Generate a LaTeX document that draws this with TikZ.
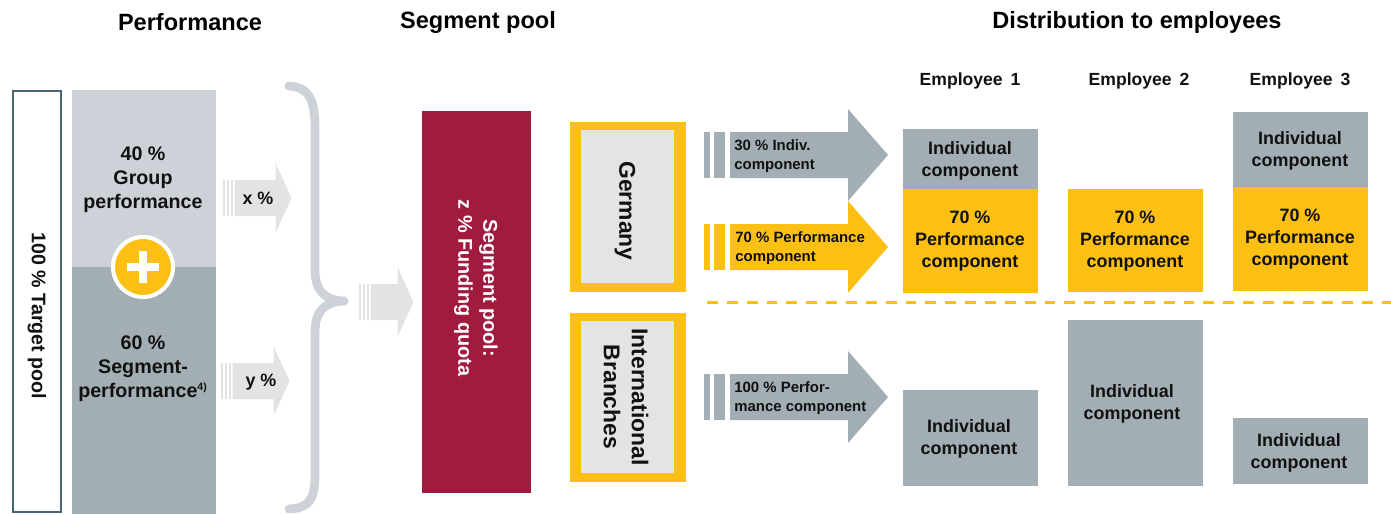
\documentclass[tikz,border=0pt]{standalone}
\usepackage{fontspec}
\setmainfont{Liberation Sans}
\usepackage{xcolor}
\definecolor{framegray}{HTML}{4B6272}
\definecolor{grouplight}{HTML}{CDD2D8}
\definecolor{segmentgray}{HTML}{A3AEB4}
\definecolor{arrowlight}{HTML}{E1E3E4}
\definecolor{poolred}{HTML}{A11B3F}
\definecolor{perfyellow}{HTML}{FCBF14}
\definecolor{innergray}{HTML}{E3E4E4}
\definecolor{inkblack}{HTML}{111111}

\begin{document}
\begin{tikzpicture}[x=0.02cm, y=-0.02cm,
  head/.style={font=\fontsize{13.4}{16}\selectfont\bfseries, text=black},
  emphead/.style={font=\fontsize{10}{12}\selectfont\bfseries, text=inkblack},
  coltext/.style={align=center, font=\fontsize{11.2}{13.6}\selectfont\bfseries, text=inkblack},
  boxtext/.style={align=center, font=\fontsize{10.2}{12.5}\selectfont\bfseries, text=inkblack},
  arrowtext/.style={align=left, anchor=west, inner sep=0pt, font=\fontsize{8.5}{10.8}\selectfont\bfseries, text=inkblack},
  sidetext/.style={align=center, rotate=-90, font=\fontsize{13}{15.9}\selectfont\bfseries, text=inkblack}]
  \useasboundingbox (0,0) rectangle (1391,514);

  % === Ueberschriften ===
  \node[head] (hperf) at (190,22) {Performance};
  \node[head] (hpool) at (478,22) {Segment pool};
  \node[head] (hdist) at (1137,22) {Distribution to employees};

  % === Zielpool ===
  \draw[framegray, line width=1.1pt] (13,91) rectangle (61,512);
  \node[rotate=-90, font=\fontsize{11.2}{13}\selectfont\bfseries, text=inkblack] (target) at (37,316) {100 \% Target pool};

  % === Performance-Saeule ===
  \fill[grouplight] (72,90) rectangle (216,267);
  \fill[segmentgray] (72,267) rectangle (216,514);
  \node[coltext] (group) at (143,180) {40 \%\\Group\\performance};
  \node[coltext] (segment) at (143,369) {60 \%\\Segment-\\performance\textsuperscript{\fontsize{6}{7}\selectfont 4)}};
  \node[circle, fill=perfyellow, draw=white, line width=2.3pt, minimum size=60*0.02cm, inner sep=0pt] (plus) at (143,267) {};
  \draw[white, line width=4.4pt] (plus.center) ++(-16,0) -- ++(32,0);
  \draw[white, line width=4.4pt] (plus.center) ++(0,-16) -- ++(0,32);

  % === Helle Pfeile ===
  \foreach \sx/\cy/\len in {223/198/41, 221/381/41, 359/302/27}{
    \fill[arrowlight] (\sx,\cy-18) rectangle +(2,36);
    \fill[arrowlight] (\sx+3.5,\cy-18) rectangle +(2.5,36);
    \fill[arrowlight] (\sx+7.5,\cy-18) rectangle +(2.5,36);
    \fill[arrowlight] (\sx+11.5,\cy-18) -- ++(\len,0) -- ++(0,-17) -- ++(16,35)
      -- ++(-16,35) -- ++(0,-17) -- ++(-\len,0) -- cycle;
  }
  \node[boxtext] (xpct) at (258,198) {x \%};
  \node[boxtext] (ypct) at (261,382) {y \%};

  % === Klammer ===
  \draw[grouplight, line width=5pt, line cap=round]
    (289,86) .. controls (309,87) and (315,100) .. (315,128) -- (315,270)
    .. controls (315,292) and (326,301) .. (346,301)
    .. controls (326,301) and (315,310) .. (315,332) -- (315,474)
    .. controls (315,500) and (309,508) .. (289,509);
  \fill[grouplight] (345,301) circle (3.6);

  % === Segmentpool ===
  \fill[poolred] (422,111) rectangle (531,493);
  \node[sidetext, text=white, font=\fontsize{11.3}{14.2}\selectfont\bfseries] (pool) at (476,288) {Segment pool:\\z \% Funding quota};

  % === Germany / International Branches ===
  \fill[perfyellow] (570,122) rectangle (686,292);
  \fill[innergray] (581,130) rectangle (674,283);
  \node[sidetext] (germany) at (625,211) {Germany};
  \fill[perfyellow] (570,313) rectangle (686,482);
  \fill[innergray] (581,321) rectangle (674,473);
  \node[sidetext] (intl) at (626,397) {International\\Branches};

  % === Pfeile zu den Komponenten ===
  \foreach \cy/\col in {155/segmentgray, 247/perfyellow, 397/segmentgray}{
    \fill[\col] (704,\cy-23) rectangle (710,\cy+23);
    \fill[\col] (714,\cy-23) rectangle (725,\cy+23);
    \fill[\col] (730,\cy-23) -- (848,\cy-23) -- (848,\cy-46) -- (888,\cy)
      -- (848,\cy+46) -- (848,\cy+23) -- (730,\cy+23) -- cycle;
  }
  \node[arrowtext] (indiv) at (734,156) {30 \% Indiv.\\component};
  \node[arrowtext] (perf) at (735,248) {70 \% Performance\\component};
  \node[arrowtext] (perfall) at (734,398) {100 \% Perfor-\\mance component};

  % === Trennlinie ===
  \draw[perfyellow, line width=1.7pt, dash pattern=on 6.2pt off 5.1pt] (707,302) -- (1391,302);

  % === Mitarbeiter ===
  \node[emphead] (emp1) at (970,81) {Employee\ \,1};
  \node[emphead] (emp2) at (1139,81) {Employee\ \,2};
  \node[emphead] (emp3) at (1300,81) {Employee\ \,3};

  \fill[segmentgray] (903,129) rectangle (1038,189);
  \fill[perfyellow] (903,189) rectangle (1038,293);
  \node[boxtext] (e1ind) at (970,161) {Individual\\component};
  \node[boxtext] (e1perf) at (970,241) {70 \%\\Performance\\component};

  \fill[perfyellow] (1068,189) rectangle (1203,292);
  \node[boxtext] (e2perf) at (1135,241) {70 \%\\Performance\\component};

  \fill[segmentgray] (1233,112) rectangle (1368,187);
  \fill[perfyellow] (1233,187) rectangle (1368,291);
  \node[boxtext] (e3ind) at (1300,151) {Individual\\component};
  \node[boxtext] (e3perf) at (1300,239) {70 \%\\Performance\\component};

  \fill[segmentgray] (903,390) rectangle (1038,486);
  \node[boxtext] (e1low) at (969,439) {Individual\\component};
  \fill[segmentgray] (1068,320) rectangle (1203,486);
  \node[boxtext] (e2low) at (1132,404) {Individual\\component};
  \fill[segmentgray] (1233,418) rectangle (1368,484);
  \node[boxtext] (e3low) at (1299,453) {Individual\\component};
\end{tikzpicture}
\end{document}
